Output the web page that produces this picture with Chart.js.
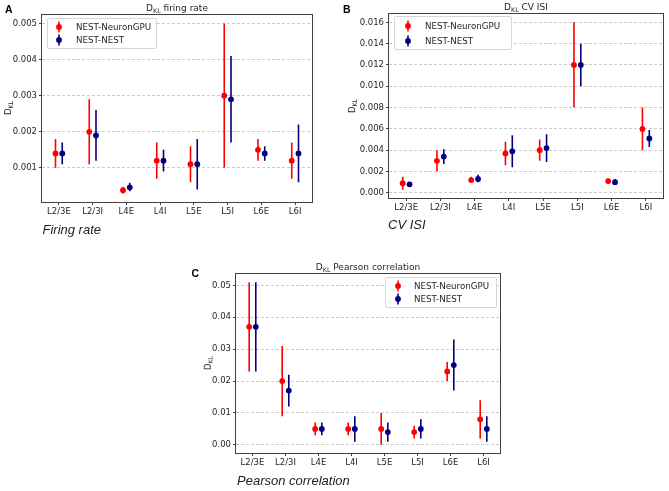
<!DOCTYPE html>
<html>
<head>
<meta charset="utf-8">
<script src="https://cdn.jsdelivr.net/npm/chart.js@4/dist/chart.umd.min.js"></script>
<style>
  body { margin: 0; background: #fff; }
  #page { position: relative; width: 669px; height: 491px; overflow: hidden; font-family: "DejaVu Sans", sans-serif; color: #262626; }
  canvas { position: absolute; }
  .txt { position: absolute; white-space: nowrap; line-height: 1; }
  .ttl { font-size: 9px; transform: translateX(-50%); }
  .ylab { font-size: 8.5px; transform: translate(-50%, -50%) rotate(-90deg); }
  .big { font-family: "Liberation Sans", Arial, sans-serif; font-style: italic; font-size: 13px; color: #222; }
  .let { font-family: "Liberation Sans", Arial, sans-serif; font-weight: bold; font-size: 10.5px; color: #000; }
  sub { font-size: 6.3px; vertical-align: baseline; position: relative; top: 2px; }
  .lgbox { position: absolute; border: 1px solid #d6d6d6; border-radius: 2px; background: rgba(255,255,255,0.85); box-sizing: border-box; }
  .lgtxt { position: absolute; white-space: nowrap; line-height: 1; font-size: 8.7px; transform: translateY(-50%); }
  .lgmark { position: absolute; }
</style>
</head>
<body>
<div id="page">
  <canvas id="cA" width="330" height="240" style="left:0;top:0"></canvas>
  <canvas id="cB" width="339" height="240" style="left:330px;top:0"></canvas>
  <canvas id="cC" width="360" height="251" style="left:160px;top:240px"></canvas>

  <div class="txt let" style="left:5px;top:3.5px">A</div>
  <div class="txt let" style="left:343px;top:3.5px">B</div>
  <div class="txt let" style="left:191.5px;top:267.5px">C</div>

  <div class="txt ttl" style="left:177px;top:3.5px">D<sub>KL</sub> firing rate</div>
  <div class="txt ttl" style="left:526px;top:3px">D<sub>KL</sub> CV ISI</div>
  <div class="txt ttl" style="left:368px;top:262.5px">D<sub>KL</sub> Pearson correlation</div>

  <div class="txt ylab" style="left:7.5px;top:108px">D<sub>KL</sub></div>
  <div class="txt ylab" style="left:351.5px;top:106px">D<sub>KL</sub></div>
  <div class="txt ylab" style="left:207.5px;top:363px">D<sub>KL</sub></div>

  <div class="txt big" style="left:42.5px;top:223px">Firing rate</div>
  <div class="txt big" style="left:388px;top:218px">CV ISI</div>
  <div class="txt big" style="left:237px;top:474px">Pearson correlation</div>

  <div id="legends"></div>
</div>

<script>
const categories = ['L2/3E', 'L2/3I', 'L4E', 'L4I', 'L5E', 'L5I', 'L6E', 'L6I'];
const seriesNames = ['NEST-NeuronGPU', 'NEST-NEST'];
const RED = '#ff0000';
const NAVY = '#000080';

// firing rate
const frGpu   = [0.0014, 0.0020, 0.00038, 0.0012, 0.0011, 0.0030, 0.0015, 0.0012];
const frGpuLo = [0.0010, 0.0011, 0.00029, 0.0007, 0.0006, 0.0010, 0.0012, 0.0007];
const frGpuHi = [0.0018, 0.0029, 0.00048, 0.0017, 0.0016, 0.0050, 0.0018, 0.0017];
const frNest   = [0.0014, 0.0019, 0.00046, 0.0012, 0.0011, 0.0029, 0.0014, 0.0014];
const frNestLo = [0.0011, 0.0012, 0.00035, 0.0009, 0.0004, 0.0017, 0.0012, 0.0006];
const frNestHi = [0.0017, 0.0026, 0.00059, 0.0015, 0.0018, 0.0041, 0.0016, 0.0022];
const frTicks = [0.001, 0.002, 0.003, 0.004, 0.005];

// CV ISI
const cvGpu   = [0.0009, 0.0030, 0.0012, 0.0037, 0.0040, 0.0120, 0.0011, 0.0060];
const cvGpuLo = [0.0003, 0.0020, 0.0010, 0.0026, 0.0030, 0.0080, 0.00085, 0.0040];
const cvGpuHi = [0.0015, 0.0040, 0.0015, 0.0048, 0.0050, 0.0160, 0.0013, 0.0080];
const cvNest   = [0.0008, 0.0034, 0.0013, 0.0039, 0.0042, 0.0120, 0.0010, 0.0051];
const cvNestLo = [0.0007, 0.0027, 0.0010, 0.0024, 0.0029, 0.0100, 0.00075, 0.0043];
const cvNestHi = [0.0009, 0.0041, 0.0017, 0.0054, 0.0055, 0.0140, 0.0013, 0.0059];
const cvTicks = [0, 0.002, 0.004, 0.006, 0.008, 0.010, 0.012, 0.014, 0.016];

// Pearson correlation
const pcGpu   = [0.037, 0.020, 0.005, 0.005, 0.005, 0.004, 0.023, 0.008];
const pcGpuLo = [0.023, 0.009, 0.003, 0.003, 0.000, 0.002, 0.020, 0.002];
const pcGpuHi = [0.051, 0.031, 0.007, 0.007, 0.010, 0.006, 0.026, 0.014];
const pcNest   = [0.037, 0.017, 0.005, 0.005, 0.004, 0.005, 0.025, 0.005];
const pcNestLo = [0.023, 0.012, 0.003, 0.001, 0.001, 0.002, 0.017, 0.001];
const pcNestHi = [0.051, 0.022, 0.007, 0.009, 0.007, 0.008, 0.033, 0.009];
const pcTicks = [0, 0.01, 0.02, 0.03, 0.04, 0.05];

Chart.defaults.font.family = '"DejaVu Sans", sans-serif';
Chart.defaults.font.size = 8.5;
Chart.defaults.color = '#262626';

function errPts(lo, hi, off){
  const pts = [];
  lo.forEach((l, i) => { pts.push({x: i + off, y: l}, {x: i + off, y: hi[i]}, {x: i + off, y: null}); });
  return pts;
}
function dotPts(vals, off){ return vals.map((v, i) => ({x: i + off, y: v})); }

const frame = {
  id: 'frame',
  afterDraw(chart){
    const a = chart.chartArea, ctx = chart.ctx;
    ctx.save();
    ctx.strokeStyle = '#404040';
    ctx.lineWidth = 1;
    ctx.strokeRect(a.left - 0.5, a.top - 0.5, a.right - a.left + 1, a.bottom - a.top + 1);
    ctx.restore();
  }
};

function makePanel(id, area, yMin, yMax, yTicks, dec, series){
  const cv = document.getElementById(id);
  const W = cv.width, H = cv.height;
  const datasets = [];
  series.forEach((s, k) => {
    const base = 2 * (series.length - 1 - k);
    datasets.push({ data: errPts(s.lo, s.hi, s.off), borderColor: s.color, borderWidth: 1.6,
      pointRadius: 0, spanGaps: false, order: base + 1 });
    datasets.push({ data: dotPts(s.v, s.off), showLine: false, backgroundColor: s.color,
      borderColor: s.color, pointBorderWidth: 0, pointRadius: 2.9, order: base });
  });
  return new Chart(cv, {
    type: 'line',
    data: { datasets },
    plugins: [frame],
    options: {
      responsive: false, animation: false, events: [],
      layout: { padding: { left: 0, top: area.top, right: W - area.right, bottom: H - area.bottom - 20 } },
      plugins: { legend: { display: false }, tooltip: { enabled: false } },
      scales: {
        x: {
          type: 'linear', min: -0.5, max: 7.5,
          afterBuildTicks: s => { s.ticks = categories.map((c, i) => ({ value: i })); },
          afterFit: s => { s.height = 20; },
          grid: { drawOnChartArea: false, tickLength: 3, tickColor: '#404040', color: '#404040' },
          border: { display: false },
          ticks: { autoSkip: false, maxRotation: 0, padding: 2, callback: v => categories[v] }
        },
        y: {
          type: 'linear', min: yMin, max: yMax,
          afterBuildTicks: s => { s.ticks = yTicks.map(v => ({ value: v })); },
          afterFit: s => { s.width = area.left; },
          grid: { color: 'rgba(0,0,0,0.2)', tickLength: 3, tickColor: '#404040', tickBorderDash: [] },
          border: { display: false, dash: [3, 2] },
          ticks: { padding: 2, callback: v => Number(v).toFixed(dec) }
        }
      }
    }
  });
}

makePanel('cA', { left: 42, top: 15, right: 312, bottom: 202 }, 0.000054, 0.005236, frTicks, 3, [
  { v: frGpu, lo: frGpuLo, hi: frGpuHi, off: -0.1, color: RED },
  { v: frNest, lo: frNestLo, hi: frNestHi, off: 0.1, color: NAVY }
]);
makePanel('cB', { left: 59, top: 14, right: 333, bottom: 198 }, -0.000485, 0.016785, cvTicks, 3, [
  { v: cvGpu, lo: cvGpuLo, hi: cvGpuHi, off: -0.1, color: RED },
  { v: cvNest, lo: cvNestLo, hi: cvNestHi, off: 0.1, color: NAVY }
]);
makePanel('cC', { left: 76, top: 34, right: 340, bottom: 213 }, -0.00255, 0.05355, pcTicks, 2, [
  { v: pcGpu, lo: pcGpuLo, hi: pcGpuHi, off: -0.1, color: RED },
  { v: pcNest, lo: pcNestLo, hi: pcNestHi, off: 0.1, color: NAVY }
]);

// legends (page coordinates)
const legendBoxes = [
  { x: 47, y: 18, w: 110, h: 31, mx: 59, tx: 76, rows: [27, 40] },
  { x: 394, y: 16, w: 118, h: 34, mx: 407.5, tx: 425, rows: [26, 41] },
  { x: 385, y: 277, w: 112, h: 31, mx: 397.5, tx: 414, rows: [285.5, 299] }
];
const seriesColors = [RED, NAVY];
let html = '';
legendBoxes.forEach(b => {
  html += `<div class="lgbox" style="left:${b.x}px;top:${b.y}px;width:${b.w}px;height:${b.h}px"></div>`;
  seriesNames.forEach((name, k) => {
    const c = seriesColors[k], y = b.rows[k];
    html += `<svg class="lgmark" width="8" height="12" style="left:${b.mx - 4}px;top:${y - 6}px">` +
      `<line x1="4" y1="0.5" x2="4" y2="11.5" stroke="${c}" stroke-width="1.6"/>` +
      `<circle cx="4" cy="6" r="2.9" fill="${c}"/></svg>`;
    html += `<div class="lgtxt" style="left:${b.tx}px;top:${y}px">${name}</div>`;
  });
});
document.getElementById('legends').innerHTML = html;
</script>
</body>
</html>
